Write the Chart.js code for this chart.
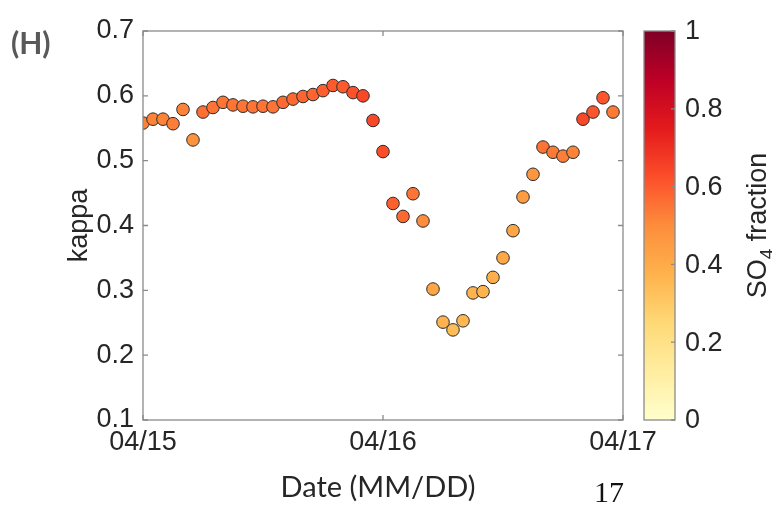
<!DOCTYPE html>
<html>
<head>
<meta charset="utf-8">
<script src="https://cdn.jsdelivr.net/npm/chart.js@4"></script>
<style>
  html, body { margin: 0; padding: 0; background: #fff; }
  #wrap { width: 772px; height: 506px; }
</style>
</head>
<body>
<div id="wrap"><canvas id="chart" width="772" height="506"></canvas></div>
<script>
// hours since 04/15 00:00
var hours = [0, 1, 2, 3, 4, 5, 6, 7, 8, 9, 10, 11, 12, 13, 14, 15, 16, 17, 18, 19, 20, 21, 22, 23,
             24, 25, 26, 27, 28, 29, 30, 31, 32, 33, 34, 35, 36, 37, 38, 39, 40, 41, 42, 43, 44, 45, 46, 47];

var kappa = [0.558, 0.564, 0.564, 0.557, 0.579, 0.532, 0.575, 0.582, 0.590, 0.586, 0.584, 0.583,
             0.584, 0.583, 0.590, 0.595, 0.599, 0.602, 0.608, 0.616, 0.614, 0.605, 0.600, 0.562,
             0.514, 0.434, 0.414, 0.449, 0.407, 0.302, 0.251, 0.239, 0.253, 0.296, 0.298, 0.320,
             0.350, 0.392, 0.444, 0.479, 0.521, 0.513, 0.507, 0.513, 0.564, 0.575, 0.597, 0.575];

var so4Frac = [0.52, 0.52, 0.52, 0.53, 0.52, 0.48, 0.56, 0.55, 0.55, 0.55, 0.55, 0.55,
               0.55, 0.55, 0.57, 0.57, 0.58, 0.58, 0.59, 0.60, 0.60, 0.62, 0.64, 0.64,
               0.63, 0.59, 0.57, 0.55, 0.50, 0.42, 0.37, 0.34, 0.36, 0.37, 0.37, 0.39,
               0.41, 0.42, 0.45, 0.47, 0.55, 0.54, 0.53, 0.52, 0.64, 0.61, 0.61, 0.54];

var dayTicks = [0, 24, 48];
var dayLabels = ['04/15', '04/16', '04/17'];
var kappaTicks = [0.1, 0.2, 0.3, 0.4, 0.5, 0.6, 0.7];
var fracTicks = [0, 0.2, 0.4, 0.6, 0.8, 1];
var fracLabels = ['0', '0.2', '0.4', '0.6', '0.8', '1'];

// YlOrRd colour map
var cmap = [[255,255,204],[255,237,160],[254,217,118],[254,178,76],[253,141,60],
            [252,78,42],[227,26,28],[189,0,38],[128,0,38]];

function fracColor(f) {
  f = Math.max(0, Math.min(1, f));
  var p = f * (cmap.length - 1);
  var i = Math.min(Math.floor(p), cmap.length - 2);
  var t = p - i;
  var a = cmap[i], b = cmap[i + 1];
  var c = [0, 1, 2].map(function(k){ return Math.round(a[k] + (b[k] - a[k]) * t); });
  return 'rgb(' + c.join(',') + ')';
}

var points = hours.map(function(h, i){ return {x: h, y: kappa[i]}; });

var txt = '#262626';
var axisCol = '#8a8a8a';
var tickFont = {family: '"Liberation Sans", Arial, sans-serif', size: 27};
var tickCss = '27px "Liberation Sans", Arial, sans-serif';

var frame = {
  id: 'frame',
  afterDraw: function(chart) {
    var ctx = chart.ctx;
    var a = chart.chartArea;
    var xs = chart.scales.x, ys = chart.scales.y, cb = chart.scales.cb;

    ctx.save();
    ctx.strokeStyle = axisCol;
    ctx.lineWidth = 1.3;
    ctx.strokeRect(a.left, a.top, a.right - a.left, a.bottom - a.top);

    // inward tick marks on all four sides
    ctx.beginPath();
    kappaTicks.forEach(function(v){
      var y = ys.getPixelForValue(v);
      ctx.moveTo(a.left, y); ctx.lineTo(a.left + 5, y);
      ctx.moveTo(a.right, y); ctx.lineTo(a.right - 5, y);
    });
    dayTicks.forEach(function(v){
      var x = xs.getPixelForValue(v);
      ctx.moveTo(x, a.bottom); ctx.lineTo(x, a.bottom - 5);
      ctx.moveTo(x, a.top); ctx.lineTo(x, a.top + 5);
    });
    ctx.stroke();

    // colour bar
    var bx0 = 644, bx1 = 675;
    var top = cb.getPixelForValue(1), bot = cb.getPixelForValue(0);
    var g = ctx.createLinearGradient(0, bot, 0, top);
    cmap.forEach(function(c, i){
      g.addColorStop(i / (cmap.length - 1), 'rgb(' + c.join(',') + ')');
    });
    ctx.fillStyle = g;
    ctx.fillRect(bx0, top, bx1 - bx0, bot - top);
    ctx.strokeStyle = axisCol;
    ctx.strokeRect(bx0, top, bx1 - bx0, bot - top);
    ctx.beginPath();
    fracTicks.forEach(function(v){
      var y = cb.getPixelForValue(v);
      ctx.moveTo(bx1, y); ctx.lineTo(bx1 - 4, y);
    });
    ctx.stroke();

    // colour bar tick labels
    ctx.fillStyle = txt;
    ctx.font = tickCss;
    ctx.textAlign = 'left';
    ctx.textBaseline = 'middle';
    fracTicks.forEach(function(v, i){
      ctx.fillText(fracLabels[i], 685, cb.getPixelForValue(v) + 1);
    });

    // axis titles
    ctx.textAlign = 'center';
    ctx.save();
    ctx.translate(80, (a.top + a.bottom) / 2);
    ctx.rotate(-Math.PI / 2);
    ctx.fillText('kappa', 0, 0);
    ctx.restore();

    ctx.font = '29px Lato, "Open Sans", sans-serif';
    ctx.textBaseline = 'alphabetic';
    ctx.fillText('Date (MM/DD)', 378, 497);

    ctx.fillStyle = '#111';
    ctx.font = '30px "Liberation Serif", "Times New Roman", serif';
    ctx.fillText('17', 609, 502);

    ctx.fillStyle = '#595959';
    ctx.font = 'bold 30px Lato, "Open Sans", sans-serif';
    ctx.textAlign = 'left';
    ctx.fillText('(H)', 11, 54);

    // SO4 fraction with subscript, rotated
    ctx.fillStyle = txt;
    ctx.save();
    ctx.translate(766, (a.top + a.bottom) / 2);
    ctx.rotate(-Math.PI / 2);
    var big = tickCss;
    var small = '19px "Liberation Sans", Arial, sans-serif';
    ctx.font = big;
    var w1 = ctx.measureText('SO').width;
    var w3 = ctx.measureText(' fraction').width;
    ctx.font = small;
    var w2 = ctx.measureText('4').width;
    var x0 = -(w1 + w2 + w3) / 2;
    ctx.textAlign = 'left';
    ctx.font = big;
    ctx.fillText('SO', x0, 0);
    ctx.font = small;
    ctx.fillText('4', x0 + w1, 7);
    ctx.font = big;
    ctx.fillText(' fraction', x0 + w1 + w2, 0);
    ctx.restore();

    ctx.restore();
  }
};

new Chart(document.getElementById('chart'), {
  type: 'scatter',
  data: {
    datasets: [{
      label: 'kappa',
      data: points,
      pointRadius: 6.3,
      pointHoverRadius: 6.3,
      borderWidth: 1,
      borderColor: '#2b2b2b',
      backgroundColor: function(ctx){ return fracColor(so4Frac[ctx.dataIndex]); }
    }]
  },
  plugins: [frame],
  options: {
    responsive: false,
    animation: false,
    layout: {padding: {top: 31, left: 0, right: 0, bottom: 0}},
    plugins: {legend: {display: false}, tooltip: {enabled: false}},
    scales: {
      x: {
        type: 'linear',
        min: 0, max: 48,
        afterBuildTicks: function(s){ s.ticks = dayTicks.map(function(v){ return {value: v}; }); },
        afterFit: function(s){ s.height = 86; },
        grid: {display: false, drawTicks: false},
        border: {display: false},
        ticks: {
          color: txt, font: tickFont, padding: 6, maxRotation: 0, autoSkip: false,
          callback: function(v){ return dayLabels[dayTicks.indexOf(v)]; }
        }
      },
      y: {
        min: 0.1, max: 0.7,
        afterBuildTicks: function(s){ s.ticks = kappaTicks.map(function(v){ return {value: v}; }); },
        afterFit: function(s){ s.width = 143; },
        grid: {display: false, drawTicks: false},
        border: {display: false},
        ticks: {color: txt, font: tickFont, padding: 9, callback: function(v){ return v.toFixed(1); }}
      },
      cb: {
        type: 'linear',
        axis: 'y',
        position: 'right',
        min: 0, max: 1,
        afterFit: function(s){ s.width = 149; },
        grid: {display: false, drawTicks: false},
        border: {display: false},
        ticks: {display: false}
      }
    }
  }
});
</script>
</body>
</html>
